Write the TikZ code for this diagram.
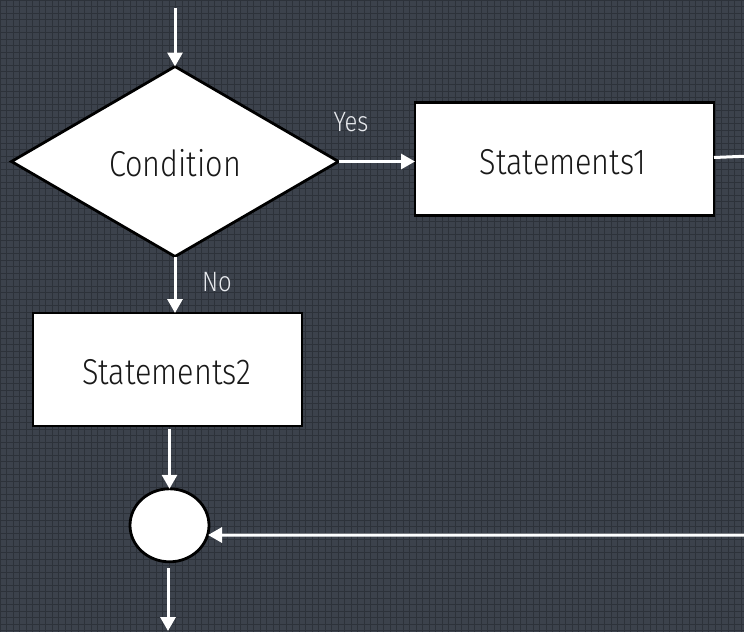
\documentclass[tikz,border=0pt]{standalone}
\usepackage{fontspec}
\setmainfont{Fira Sans}[UprightFont={* Light}, FakeStretch=0.85]
\usetikzlibrary{arrows.meta,shapes.geometric}
\definecolor{bgcol}{RGB}{60,66,76}
\definecolor{gridcol}{RGB}{45,50,58}
\definecolor{inkcol}{RGB}{25,25,25}
\definecolor{labelcol}{RGB}{232,234,238}
\begin{document}
\begin{tikzpicture}[x=1pt,y=-1pt,
  flow/.style={draw=black, line width=2.8pt, fill=white, inner sep=0pt, outer sep=0pt},
  boxtext/.style={text=inkcol, font=\fontsize{36}{40}\selectfont, inner sep=0pt},
  lbl/.style={text=labelcol, font=\fontsize{28}{32}\selectfont, inner sep=0pt},
  conn/.style={draw=white, line width=3pt, -{Triangle[length=14pt,width=15pt]}},
  gridline/.style={draw=gridcol, line width=1pt}]
\useasboundingbox (0,0) rectangle (744,632);
\clip (0,0) rectangle (744,632);
% dark grid paper
\fill[bgcol] (0,0) rectangle (744,632);
\foreach \gx in {0,6.5,...,744} \draw[gridline] (\gx,0) -- (\gx,632);
\foreach \gy in {0,6.5,...,632} \draw[gridline] (0,\gy) -- (744,\gy);

% shapes
\node[flow, shape=diamond, aspect=1.72, minimum width=327pt, minimum height=190pt] (cond) at (175,161.5) {};
\node[boxtext] (condtext) at (175,163.5) {Condition};
\node[flow, minimum width=299pt, minimum height=113pt] (s1) at (564.5,159) {};
\node[boxtext] (s1text) at (563,162) {Statements1};
\node[flow, minimum width=269pt, minimum height=113pt] (s2) at (167.5,369.5) {};
\node[boxtext] (s2text) at (166.5,372) {Statements2};
\node[flow, ellipse, minimum width=79pt, minimum height=73pt] (join) at (169.5,525.3) {};

% free ends
\coordinate (in) at (175,8);
\coordinate (out) at (168,631);
\coordinate (loopA) at (800,154);
\coordinate (loopB) at (800,535);

% connectors
\draw[conn] (in) -- (cond.north);
\draw[conn] (cond.east) -- (cond.east -| s1.west);
\draw[conn] (cond.south) -- (cond.south |- s2.north);
\draw[conn] ([yshift=-3pt]s2.south -| join.north) -- (join.north);
\draw[conn] ([yshift=1.5pt]s1.east) -- (loopA) -- (loopB) -- ([xshift=-1pt]loopB -| join.east);
\draw[conn] ([yshift=-6pt]join.south -| out) -- (out);

% branch labels
\node[lbl] (yes) at (351,122) {Yes};
\node[lbl] (no) at (217,282) {No};
\end{tikzpicture}
\end{document}
